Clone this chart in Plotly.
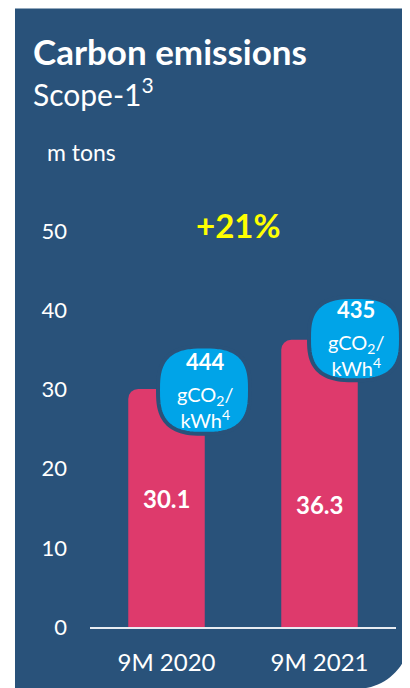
import numpy as np
import plotly.graph_objects as go

# ---- data ----
categories = ["9M 2020", "9M 2021"]
emissions = [30.1, 36.3]              # m tons
intensity = [444, 435]                # gCO2/kWh
y_ticks = [0, 10, 20, 30, 40, 50]
growth_label = "+21%"

# ---- style ----
PANEL = "#29527A"
BAR = "#DE3A6C"
BUBBLE = "#00A4E8"
FONT = "Lato"
OFF = 8                      # page body margin
W, H = 410 - OFF, 688 - OFF
# plot area in screen pixels: x 90..396, y 184..631
X0, X1, Y0, Y1 = 90, 396, 184, 631
L, R, T, B = X0 - OFF, W - (X1 - OFF), Y0 - OFF, H - (Y1 - OFF)
PW, PH = X1 - X0, Y1 - Y0
Y_MAX = 56


def px(x):
    return (x - X0) / PW


def py(y):
    return (Y1 - y) / PH


def path_from(points):
    return "M " + " L ".join(f"{px(x):.5f},{py(y):.5f}" for x, y in points) + " Z"


# panel with rounded bottom-right corner (screen pixels)
r = 53.4
cx, cy = 410 - r, 640
arc = [(cx + r * np.cos(t), cy + r * np.sin(t)) for t in np.linspace(0, np.pi / 2, 24)]
panel_pts = [(15, 7), (420, 7), (410, 7)] + arc + [(15, cy + r)]


def squircle(cx, cy, a, b, n=2.8, k=96):
    pts = []
    for t in np.linspace(0, 2 * np.pi, k, endpoint=False):
        c, s = np.cos(t), np.sin(t)
        x = cx + a * np.sign(c) * abs(c) ** (2 / n)
        y = cy + b * np.sign(s) * abs(s) ** (2 / n)
        pts.append((x, y))
    return pts


fig = go.Figure()
fig.add_trace(go.Bar(
    x=categories, y=emissions, width=0.5,
    marker=dict(color=BAR, cornerradius=10, line=dict(width=0)),
    hoverinfo="skip",
))

shapes = [dict(type="path", xref="paper", yref="paper", path=path_from(panel_pts),
               fillcolor=PANEL, line=dict(width=0), layer="below")]

bubble_geo = [(204, 392, 46, 44), (355, 340, 46, 42)]
for (bx, by, a, b) in bubble_geo:
    shapes.append(dict(type="path", xref="paper", yref="paper",
                       path=path_from(squircle(bx, by, a, b)),
                       fillcolor=BUBBLE, line=dict(color=PANEL, width=4), layer="above"))

ann = []


def add_text(text, x, y, size, color="white", xanchor="center", bold=False):
    ann.append(dict(text=f"<b>{text}</b>" if bold else text, x=px(x), y=py(y),
                    xref="paper", yref="paper", xanchor=xanchor, yanchor="middle",
                    showarrow=False, font=dict(family=FONT, size=size, color=color)))


add_text("Carbon emissions", 31, 50, 35, bold=True, xanchor="left")
add_text("Scope-1<sup>3</sup>", 31, 91, 30, xanchor="left")
add_text("m tons", 45, 152, 23, xanchor="left")
add_text(growth_label, 238, 225, 33, color="#FFFF00", bold=True)

label_y = [501, 507]
for i, v in enumerate(emissions):
    cxp = X0 + PW * (i + 0.5) / len(categories)
    add_text(f"{v}", cxp, label_y[i], 24, bold=True)

for i, v in enumerate(intensity):
    bx, by = bubble_geo[i][0], bubble_geo[i][1]
    add_text(str(v), bx + 1, by - 29, 22, bold=True)
    add_text("gCO<sub>2</sub>/<br>kWh<sup>4</sup>", bx + 1, by + 17, 20)

fig.update_layout(
    width=W, height=H,
    margin=dict(l=L, r=R, t=T, b=B, pad=0),
    paper_bgcolor="white", plot_bgcolor="rgba(0,0,0,0)",
    showlegend=False, bargap=0.5,
    shapes=shapes, annotations=ann,
    font=dict(family=FONT, color="white"),
    xaxis=dict(type="category", range=[-0.5, 1.5], showgrid=False, zeroline=False,
               showline=True, linecolor="#E8ECF2", linewidth=1.5,
               ticks="", tickfont=dict(family=FONT, size=24, color="white"),
               ticklabelstandoff=13, fixedrange=True),
    yaxis=dict(range=[0, Y_MAX], tickvals=y_ticks, showgrid=False, zeroline=False,
               showline=False, ticks="", tickfont=dict(family=FONT, size=22, color="white"),
               ticklabelstandoff=22, fixedrange=True),
)

fig.write_html("out.html")
